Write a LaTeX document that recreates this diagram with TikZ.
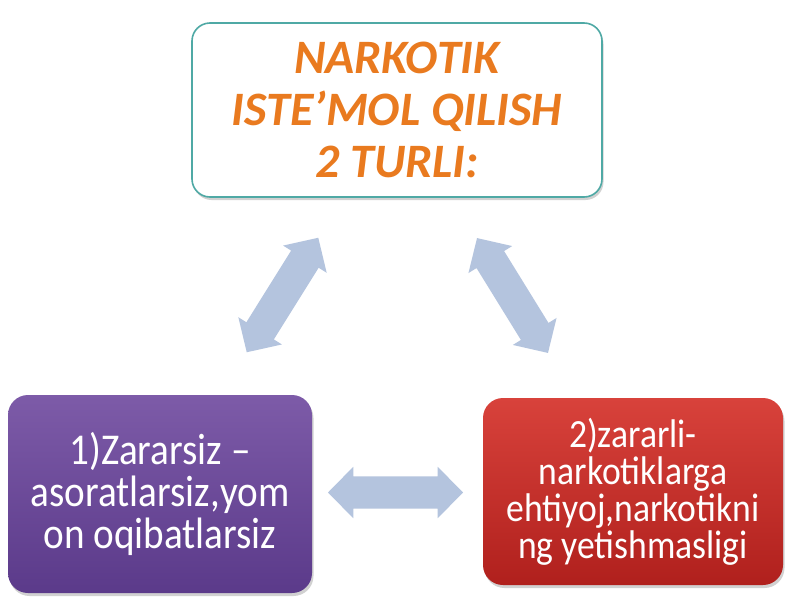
\documentclass[tikz,border=0pt]{standalone}
\usepackage{fontspec}
\setmainfont{Carlito}
\newfontfamily\boxfont[FakeStretch=0.89]{Carlito}
\newfontfamily\headfont{Carlito}
\usetikzlibrary{shapes.arrows,shadows}
\definecolor{headorange}{HTML}{E97A1F}
\definecolor{tealborder}{HTML}{4FA9A5}
\definecolor{purpletop}{HTML}{7D5BA8}
\definecolor{purplebot}{HTML}{5B3A8A}
\definecolor{redtop}{HTML}{D8423B}
\definecolor{redbot}{HTML}{B0201D}
\definecolor{arrowblue}{HTML}{B4C4DE}
\tikzset{
  softshadow/.style={drop shadow={opacity=0.18, shadow xshift=1.5pt, shadow yshift=-3pt, fill=black}},
  topbox/.style={rounded corners=18pt, draw=tealborder, line width=1.6pt, fill=white, inner sep=0pt,
    softshadow, align=center, text=headorange,
    font=\headfont\fontsize{48}{52}\selectfont\bfseries\itshape},
  purplebox/.style={rounded corners=20pt, top color=purpletop, bottom color=purplebot, draw=none,
    inner sep=0pt, softshadow, align=center, text=white,
    font=\boxfont\fontsize{44}{42}\selectfont},
  redbox/.style={rounded corners=20pt, top color=redtop, bottom color=redbot, draw=none,
    inner sep=0pt, softshadow, align=center, text=white,
    font=\boxfont\fontsize{40}{37}\selectfont},
  blockarrow/.style={double arrow, fill=arrowblue, draw=none, inner xsep=0pt, inner ysep=16pt,
    double arrow head extend=9.5pt, double arrow tip angle=91, minimum height=135pt}
}
\begin{document}
\begin{tikzpicture}[x=1pt,y=-1pt]
\useasboundingbox[fill=white] (0,0) rectangle (800,600);
\node (top) [topbox, minimum width=410pt, minimum height=174pt] at (397,110)
  {NARKOTIK\\ISTE’MOL QILISH\\2 TURLI:};
\node (left) [purplebox, minimum width=304pt, minimum height=198pt] at (160,494)
  {1)Zararsiz –\\asoratlarsiz,yom\\on oqibatlarsiz};
\node (right) [redbox, minimum width=300pt, minimum height=187pt] at (633,491.5)
  {2)zararli-\\narkotiklarga\\ehtiyoj,narkotikni\\ng yetishmasligi};
\node (aleft) [blockarrow, rotate=58] at (282.5,295) {};
\node (aright) [blockarrow, rotate=-58.3] at (512.5,295.5) {};
\node (abottom) [blockarrow] at (395.5,492.5) {};
\end{tikzpicture}
\end{document}
